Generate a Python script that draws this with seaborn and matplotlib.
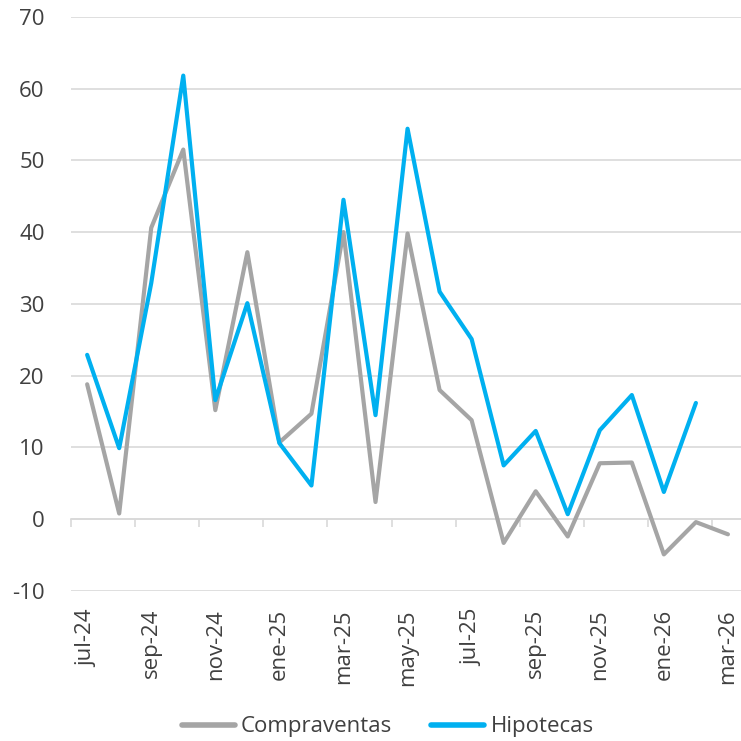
import pandas as pd
import numpy as np
import matplotlib.pyplot as plt
import seaborn as sns

# Data (variacion interanual, %)
months = ['jul-24', 'ago-24', 'sep-24', 'oct-24', 'nov-24', 'dic-24',
          'ene-25', 'feb-25', 'mar-25', 'abr-25', 'may-25', 'jun-25',
          'jul-25', 'ago-25', 'sep-25', 'oct-25', 'nov-25', 'dic-25',
          'ene-26', 'feb-26', 'mar-26']
compraventas = [18.8, 0.8, 40.6, 51.5, 15.2, 37.2,
                10.7, 14.7, 40.0, 2.4, 39.8, 18.0,
                13.8, -3.3, 3.9, -2.4, 7.8, 7.9,
                -4.9, -0.4, -2.1]
hipotecas = [22.9, 9.9, 32.9, 61.8, 16.6, 30.1,
             10.6, 4.7, 44.5, 14.5, 54.4, 31.7,
             25.1, 7.5, 12.3, 0.7, 12.4, 17.3,
             3.8, 16.2, np.nan]

sns.set_style("white")
plt.rcParams['font.family'] = ['Open Sans', 'DejaVu Sans']
plt.rcParams['axes.unicode_minus'] = False

df = pd.DataFrame({'mes': range(len(months)),
                   'Compraventas': compraventas,
                   'Hipotecas': hipotecas})
long = df.melt(id_vars='mes', var_name='serie', value_name='valor')

fig = plt.figure(figsize=(7.41, 7.41), dpi=100)
ax = fig.add_axes([0.096, 0.2024, 0.908, 0.775])

sns.lineplot(data=long, x='mes', y='valor', hue='serie',
             palette={'Compraventas': '#A5A5A5', 'Hipotecas': '#00B0F0'},
             linewidth=3, ax=ax, legend=False)

ax.set_xlim(-0.5, len(months) - 0.5)
ax.set_ylim(-10, 70)
ax.set_yticks(range(-10, 71, 10))
ax.yaxis.grid(True, color='#D9D9D9', linewidth=1.2)
ax.set_axisbelow(True)
for s in ax.spines.values():
    s.set_visible(False)

ax.set_xticks(range(0, len(months), 2))
ax.set_xticklabels(months[::2], rotation=90)
ax.tick_params(axis='x', length=0, pad=13, labelsize=16, labelcolor='#404040')
ax.tick_params(axis='y', length=0, pad=19, labelsize=16, labelcolor='#404040')
ax.set_xlabel('')
ax.set_ylabel('')

# category axis drawn at y = 0
sec = ax.secondary_xaxis(0, transform=ax.transData)
sec.set_xticks(np.arange(-0.5, len(months), 2))
sec.set_xticklabels([])
sec.tick_params(axis='x', length=6, width=1.2, color='#D9D9D9')
sec.spines['bottom'].set_color('#D9D9D9')
sec.spines['bottom'].set_linewidth(1.2)

handles = [plt.Line2D([], [], color='#A5A5A5', lw=4, solid_capstyle='round'),
           plt.Line2D([], [], color='#00B0F0', lw=4, solid_capstyle='round')]
fig.legend(handles, ['Compraventas', 'Hipotecas'], loc='center',
           bbox_to_anchor=(0.523, 0.019), ncol=2, frameon=False,
           fontsize=16, labelcolor='#404040', handlelength=2.4,
           handletextpad=0.27, columnspacing=1.75)

fig.savefig('out.png', dpi=100)
